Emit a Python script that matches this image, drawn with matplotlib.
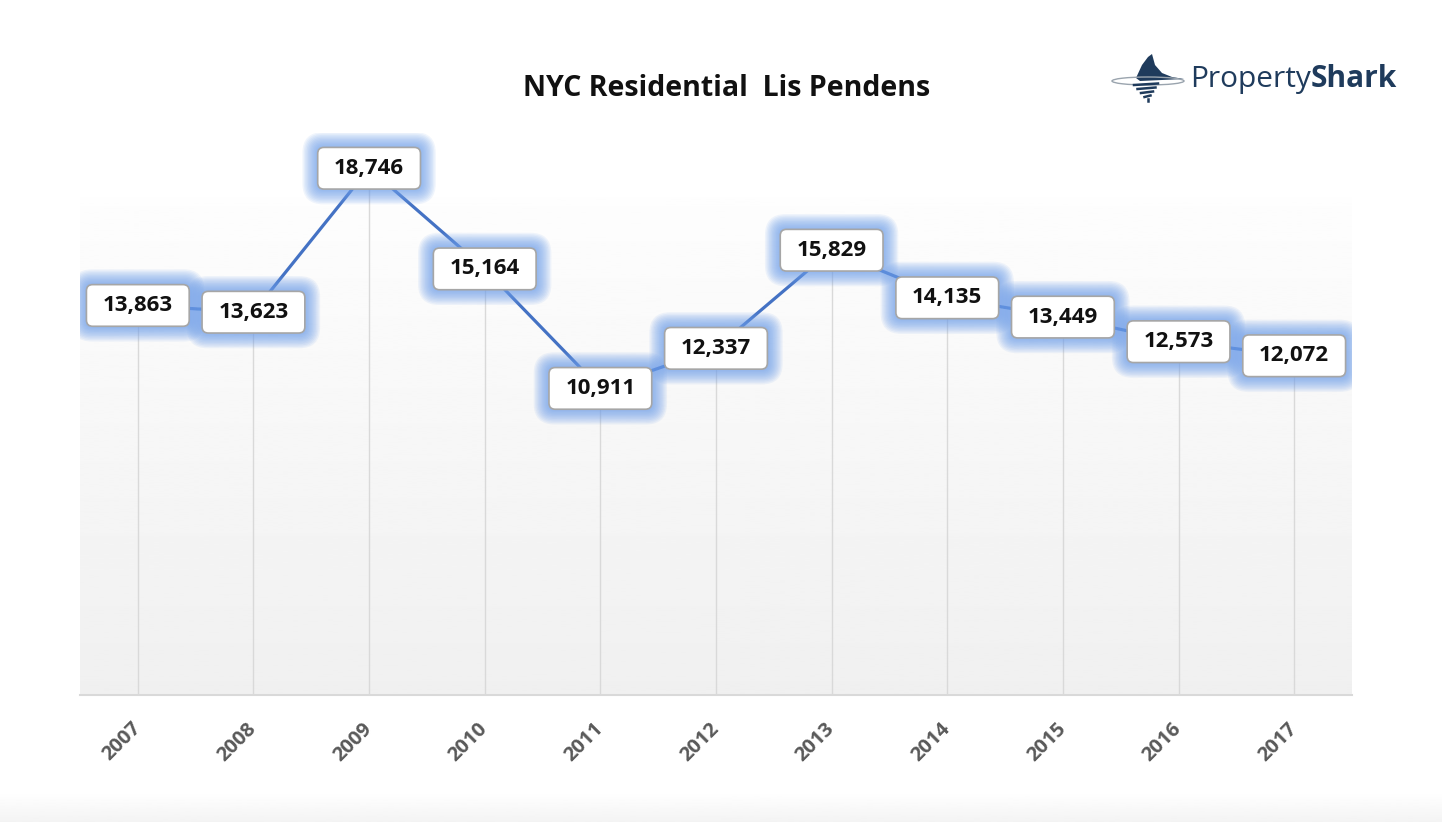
import numpy as np
import matplotlib
matplotlib.use("Agg")
import matplotlib.pyplot as plt
import matplotlib.transforms as mtransforms
from matplotlib.patches import FancyBboxPatch, Polygon, Ellipse

years = ["2007", "2008", "2009", "2010", "2011", "2012", "2013", "2014", "2015", "2016", "2017"]
values = [13863, 13623, 18746, 15164, 10911, 12337, 15829, 14135, 13449, 12573, 12072]
labels = ["13,863", "13,623", "18,746", "15,164", "10,911", "12,337", "15,829", "14,135", "13,449", "12,573", "12,072"]
title = "NYC Residential  Lis Pendens"

plt.rcParams['font.family'] = ['Open Sans', 'DejaVu Sans']

W, H = 1442, 822
fig = plt.figure(figsize=(W / 100, H / 100), dpi=100)
fig.patch.set_facecolor("white")

# bottom light strip
grad_b = np.linspace(1.0, 0.955, 50).reshape(-1, 1)
axb = fig.add_axes([0, 0, 1, 30 / H])
axb.imshow(grad_b, cmap="gray", vmin=0, vmax=1, aspect="auto", extent=[0, 1, 0, 1])
axb.set_axis_off()

ax = fig.add_axes([80 / W, (H - 695) / H, (1352 - 80) / W, (695 - 133) / H])
x = np.arange(len(years))
ax.set_xlim(-0.5, len(years) - 0.5)
ax.set_ylim(0, 20000)

# gradient background
grad = np.linspace(1.0, 0.94, 256).reshape(-1, 1)
grad[:30] = 1.0
ax.imshow(grad, cmap="gray", vmin=0, vmax=1, aspect="auto",
          extent=[-0.5, len(years) - 0.5, 0, 20000], zorder=0)

for s in ["top", "right", "left"]:
    ax.spines[s].set_visible(False)
ax.spines["bottom"].set_color("#d9d9d9")
ax.spines["bottom"].set_linewidth(1.5)
ax.set_yticks([])
ax.set_xticks(x)
ax.set_xticklabels(years, rotation=45, ha="right", va="center", rotation_mode="anchor",
                   fontsize=14.5, fontweight="bold", color="#595959")
ax.tick_params(axis="x", length=0, pad=22)

# drop lines
ax.vlines(x, 0, values, color="#d9d9d9", lw=1, zorder=1)
ax.plot(x, values, color="#4472C4", lw=2.3, zorder=2, solid_capstyle="round")

# labels with glow
scale = mtransforms.Affine2D().scale(fig.dpi / 72.0)
bw, bh = 74.0, 30.0
for xi, v, lab in zip(x, values, labels):
    tr = scale + mtransforms.ScaledTranslation(xi, v, ax.transData)
    for g in np.linspace(11, 1, 11):
        p = FancyBboxPatch((-bw / 2 - g, -bh / 2 - g), bw + 2 * g, bh + 2 * g,
                           boxstyle=f"round,pad=0,rounding_size={4 + g}",
                           transform=tr, fc="#6d9eeb", ec="none", alpha=0.10,
                           zorder=3)
        ax.add_patch(p)
    box = FancyBboxPatch((-bw / 2, -bh / 2), bw, bh,
                         boxstyle="round,pad=0,rounding_size=4.5",
                         transform=tr, fc="white", ec="#a6a6a6", lw=1.2, zorder=4)
    ax.add_patch(box)
    ax.text(xi, v, lab, ha="center", va="center", fontsize=16, fontweight="bold",
            color="#111111", zorder=5)

fig.text(727 / W, 1 - 88 / H, title, ha="center", va="center", fontsize=20.5,
         fontweight="bold", color="#111111")

# logo
navy = "#1f3b5c"
t1 = fig.text(1190 / W, 1 - 79 / H, "Property", ha="left", va="center", fontsize=21.5,
              color=navy)
fig.canvas.draw()
bb = t1.get_window_extent(renderer=fig.canvas.get_renderer())
fig.text(bb.x1 / W, 1 - 79 / H, "Shark", ha="left", va="center", fontsize=21.5,
         fontweight="bold", color=navy)

lax = fig.add_axes([1110 / W, 1 - 105 / H, 80 / W, 52 / H])
lax.set_xlim(0, 80)
lax.set_ylim(52, 0)
lax.set_axis_off()
fin = Polygon([[26, 25], [32, 12], [38, 4], [42, 1], [45, 12], [52, 20], [62, 24], [74, 26], [30, 28]],
              closed=True, fc=navy, ec="none")
lax.add_patch(fin)
lax.add_patch(Ellipse((38, 28), 72, 8, fill=False, ec="#9aa4ae", lw=1.0))
for i, yy in enumerate([32, 36, 40, 44, 48]):
    w = 24 - i * 3
    lax.plot([36 - w / 2 + i * 2, 36 + w / 2 - i], [yy, yy - 1.5], color=navy, lw=1.8)

fig.savefig("out.png", dpi=100, facecolor="white")
